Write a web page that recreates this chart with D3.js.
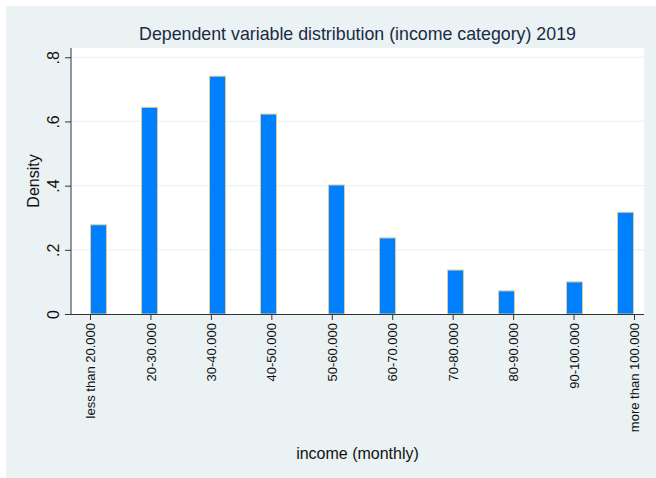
<!DOCTYPE html>
<html>
<head>
<meta charset="utf-8">
<script src="https://cdn.jsdelivr.net/npm/d3@7"></script>
<style>
  html, body { margin: 0; padding: 0; background: #ffffff; }
  svg { display: block; font-family: "Liberation Sans", Arial, sans-serif; }
</style>
</head>
<body>
<svg id="chart" width="656" height="478"></svg>
<script>
// ---- data ----
const categories = ["less than 20.000", "20-30.000", "30-40.000", "40-50.000", "50-60.000",
                    "60-70.000", "70-80.000", "80-90.000", "90-100.000", "more than 100.000"];
const categoryCodes = [1, 2, 3, 4, 5, 6, 7, 8, 9, 10];
const density = [0.278, 0.644, 0.741, 0.623, 0.402, 0.237, 0.137, 0.072, 0.100, 0.317];
const binCount = 32;
const yTicks = [0, 0.2, 0.4, 0.6, 0.8];
const yTickLabels = ["0", ".2", ".4", ".6", ".8"];

// ---- layout ----
const svg = d3.select("#chart");
const W = 656, H = 478;
const plot = { left: 71, right: 644, top: 48, bottom: 314 };

svg.append("rect").attr("x", 6).attr("y", 6).attr("width", W - 6).attr("height", H - 6)
   .attr("fill", "#eaf2f3");
svg.append("rect").attr("x", plot.left).attr("y", plot.top)
   .attr("width", plot.right - plot.left).attr("height", plot.bottom - plot.top)
   .attr("fill", "#ffffff");

const x = d3.scaleLinear().domain([1, 10]).range([90, 634]);
const y = d3.scaleLinear().domain([0, 0.8]).range([plot.bottom, 57.25]);

// histogram bins
const lo = d3.min(categoryCodes), hi = d3.max(categoryCodes);
const w = (hi - lo) / binCount;
const bars = categoryCodes.map((c, i) => {
  const idx = Math.min(Math.floor((c - lo) / w), binCount - 1);
  return { x0: lo + idx * w, x1: lo + (idx + 1) * w, d: density[i] };
});

// gridlines
svg.append("g").selectAll("line").data(yTicks.filter(t => t > 0)).join("line")
  .attr("x1", plot.left).attr("x2", plot.right)
  .attr("y1", d => y(d)).attr("y2", d => y(d))
  .attr("stroke", "#eaf2f3").attr("stroke-width", 1.2);

// bars
svg.append("g").selectAll("rect").data(bars).join("rect")
  .attr("x", d => x(d.x0) + 0.5)
  .attr("width", d => x(d.x1) - x(d.x0) - 1)
  .attr("y", d => y(d.d))
  .attr("height", d => y(0) - y(d.d))
  .attr("fill", "#0080ff")
  .attr("stroke", "#d9cf9c").attr("stroke-width", 1);

// y axis
const yAxis = d3.axisLeft(y).tickValues(yTicks).tickFormat((d, i) => yTickLabels[i])
  .tickSize(6).tickSizeOuter(0);
const gy = svg.append("g").attr("transform", `translate(${plot.left},0)`).call(yAxis);
gy.select(".domain").remove();
gy.selectAll(".tick line").attr("stroke", "#333");
gy.selectAll(".tick text")
  .attr("x", null).attr("dy", null)
  .attr("text-anchor", "middle")
  .attr("font-size", 16).attr("fill", "#111")
  .attr("transform", "translate(-18,0) rotate(-90)")
  .attr("dy", "0.35em");
svg.append("line").attr("x1", plot.left).attr("x2", plot.left)
  .attr("y1", plot.top).attr("y2", plot.bottom + 0.5).attr("stroke", "#333");

// x axis
const xAxis = d3.axisBottom(x).tickValues(categoryCodes)
  .tickFormat((d, i) => categories[i]).tickSize(6).tickSizeOuter(0);
const gx = svg.append("g").attr("transform", `translate(0,${plot.bottom})`).call(xAxis);
gx.select(".domain").remove();
gx.selectAll(".tick line").attr("stroke", "#333");
gx.selectAll(".tick text")
  .attr("y", null).attr("dy", null)
  .attr("text-anchor", "end")
  .attr("font-size", 13).attr("fill", "#111")
  .attr("transform", "translate(0,9) rotate(-90)")
  .attr("dy", "0.35em");
svg.append("line").attr("x1", plot.left).attr("x2", plot.right)
  .attr("y1", plot.bottom + 0.5).attr("y2", plot.bottom + 0.5).attr("stroke", "#333");

// titles
svg.append("text").attr("x", (plot.left + plot.right) / 2).attr("y", 40)
  .attr("text-anchor", "middle").attr("font-size", 17.8).attr("fill", "#1a2b45")
  .text("Dependent variable distribution (income category) 2019");
svg.append("text").attr("x", (plot.left + plot.right) / 2).attr("y", 459)
  .attr("text-anchor", "middle").attr("font-size", 16).attr("fill", "#111")
  .text("income (monthly)");
svg.append("text").attr("transform", `translate(39,${(plot.top + plot.bottom) / 2}) rotate(-90)`)
  .attr("text-anchor", "middle").attr("font-size", 16).attr("fill", "#111")
  .text("Density");
</script>
</body>
</html>
